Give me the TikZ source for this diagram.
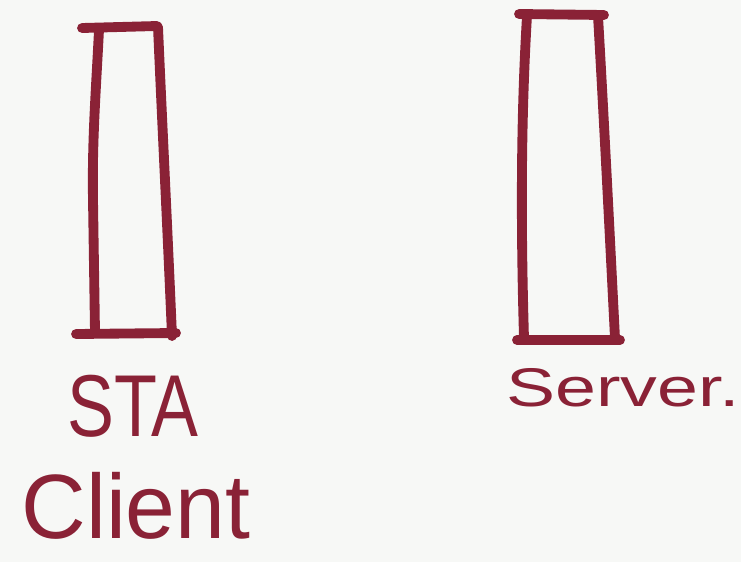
\documentclass[tikz,border=0pt]{standalone}
\usepackage{fontspec}
\setmainfont{Liberation Sans}
\definecolor{ink}{RGB}{138,34,54}
\definecolor{paper}{RGB}{247,248,246}
\tikzset{
  pen/.style={ink, line width=5.6pt, line cap=round, line join=round},
  tag/.style={ink, anchor=base, inner sep=0pt, text depth=0pt}
}
\begin{document}
\begin{tikzpicture}[x=0.02cm, y=-0.02cm]
        \fill[paper] (0,0) rectangle (741,562);
        \useasboundingbox (0,0) rectangle (741,562);

        % STA client
        \draw[pen] (82,28) -- (157,26);
        \draw[pen] (99,30) .. controls (96,90) and (92,140) .. (93,200) -- (95,332);
        \draw[pen] (158,27) .. controls (162,120) and (168,240) .. (172,336);
        \draw[pen] (76,334) -- (176,333);

        % server
        \draw[pen] (519,14) -- (604,15);
        \draw[pen] (527,16) .. controls (522,100) and (520,200) .. (524,338);
        \draw[pen] (598,16) .. controls (604,120) and (610,240) .. (615,338);
        \draw[pen] (517,340) -- (620,340);

        \node[tag, font=\fontsize{52}{52}\selectfont, xscale=0.98] (client) at (136,538) {Client};
        \node[tag, font=\fontsize{50}{50}\selectfont, xscale=0.8] (sta) at (133,436) {STA};
        \node[tag, font=\fontsize{31}{31}\selectfont, xscale=1.35] (server) at (623,406) {Server.};
\end{tikzpicture}
\end{document}
